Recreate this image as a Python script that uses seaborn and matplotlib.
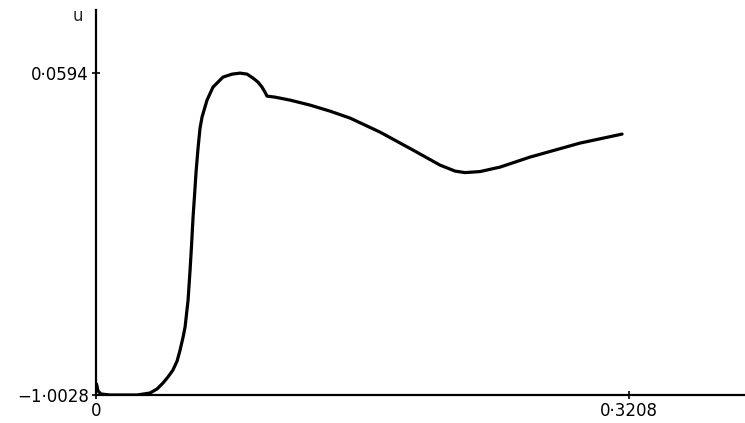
import matplotlib
matplotlib.use("Agg")
import matplotlib.pyplot as plt
import seaborn as sns
import pandas as pd

# sampled trace of u against the horizontal coordinate
x_vals = [0.0003, 0.0012, 0.0030, 0.0084, 0.0247, 0.0325, 0.0367, 0.0403,
          0.0433, 0.0463, 0.0488, 0.0506, 0.0524, 0.0536, 0.0554, 0.0566,
          0.0575, 0.0584, 0.0593, 0.0602, 0.0614, 0.0626, 0.0638,
          0.0668, 0.0704, 0.0764, 0.0819, 0.0867, 0.0909, 0.0945, 0.0975,
          0.0999, 0.1017, 0.1029, 0.1077, 0.1168, 0.1288, 0.1408, 0.1529,
          0.1709, 0.1908, 0.2070, 0.2161, 0.2221, 0.2311, 0.2432, 0.2612,
          0.2913, 0.3166]
u_vals = [-0.9665, -0.9896, -0.9995, -1.0028, -1.0028, -0.9962, -0.9830, -0.9632,
          -0.9434, -0.9203, -0.8906, -0.8544, -0.8115, -0.7785, -0.6894, -0.5905,
          -0.5080, -0.4156, -0.3430, -0.2672, -0.1880, -0.1220, -0.0857,
          -0.0297, 0.0132, 0.0462, 0.0561, 0.0594, 0.0561, 0.0429, 0.0297,
          0.0132, -0.0033, -0.0165, -0.0198, -0.0297, -0.0461, -0.0660, -0.0890,
          -0.1352, -0.1946, -0.2441, -0.2639, -0.2689, -0.2655, -0.2507, -0.2177,
          -0.1715, -0.1418]

x_ticks = [0.0, 0.3208]
x_tick_labels = ["0", "0\u00b73208"]
y_ticks = [-1.0028, 0.0594]
y_tick_labels = ["\u22121\u00b70028", "0\u00b70594"]
y_axis_label = "u"

sns.set_style("ticks")
plt.rcParams["font.family"] = ["DejaVu Sans"]

fig = plt.figure(figsize=(7.45, 4.23), dpi=100)
ax = fig.add_axes([0.1289, 0.0662, 0.8711, 0.9098])

df = pd.DataFrame({"x": x_vals, "u": u_vals})
sns.lineplot(data=df, x="x", y="u", sort=False, estimator=None,
             color="black", linewidth=2.3, ax=ax)
for line in ax.get_lines():
    line.set_solid_joinstyle("round")
    line.set_solid_capstyle("round")

ax.set_xlim(0.0, 0.3906)
ax.set_ylim(-1.0028, 0.2672)

for side in ("top", "right"):
    ax.spines[side].set_visible(False)
for side in ("left", "bottom"):
    ax.spines[side].set_linewidth(1.6)
    ax.spines[side].set_color("black")

ax.set_xticks(x_ticks)
ax.set_xticklabels(x_tick_labels, fontsize=12)
ax.set_yticks(y_ticks)
ax.set_yticklabels(y_tick_labels, fontsize=12)
ax.tick_params(axis="both", direction="inout", length=6, width=1.2,
               colors="black", pad=2)
ax.set_xlabel("")
ax.set_ylabel("")

ax.text(-0.028, 0.985, y_axis_label, transform=ax.transAxes,
        ha="center", va="center", fontsize=12)

fig.savefig("out.png", dpi=100)
